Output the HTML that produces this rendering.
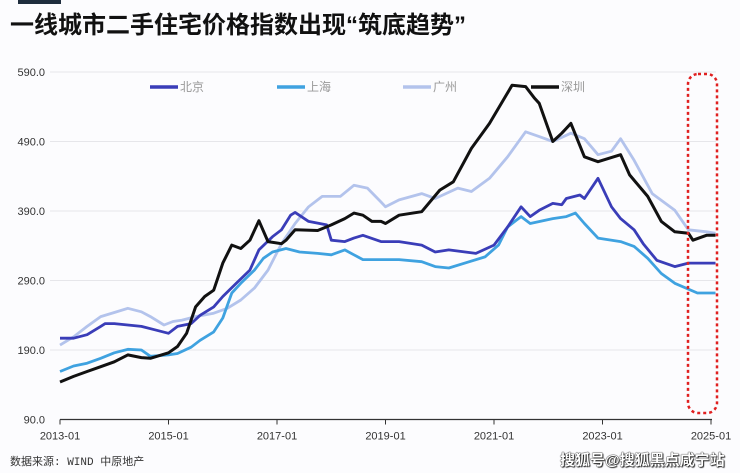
<!DOCTYPE html>
<html><head><meta charset="utf-8">
<style>
html,body{margin:0;padding:0;background:#fcfcfe;}
body{width:740px;height:473px;overflow:hidden;position:relative;font-family:"Liberation Sans","Noto Sans CJK SC",sans-serif;}
</style></head>
<body>
<div style="position:absolute;left:18px;top:0;width:43px;height:4px;background:#1f2d3d"></div>
<div style="position:absolute;left:10px;top:5px;font-size:24px;font-weight:bold;color:#111;font-family:'Liberation Sans','Noto Sans CJK SC',sans-serif">一线城市二手住宅价格指数出现“筑底趋势”</div>
<svg id="chart" width="740" height="473" style="position:absolute;left:0;top:0"></svg>
<div style="position:absolute;left:10px;top:453px;font-size:11px;color:#333;font-family:'Liberation Mono','Noto Sans CJK SC',monospace">数据来源: WIND 中原地产</div>
<div style="position:absolute;left:560px;top:449px;font-size:15px;font-weight:bold;color:#fff;text-shadow:0 0 1px #000,0 0 1px #000,1px 1px 1px #333">搜狐号@搜狐黑点咸宁站</div>
<script>
const yTicks=[90,190,290,390,490,590];
const xTickLabels=["2013-01","2015-01","2017-01","2019-01","2021-01","2023-01","2025-01"];
const seriesNames=["北京","上海","广州","深圳"];
const bjMonths=[0,3,6,9,10,12,15,18,21,24,26,29,31,34,36,39,42,44,47,49,51,52,55,59,60,63,65,67,71,75,80,83,86,92,96,99,102,104,106,109,111,112,115,116,119,122,124,127,129,132,136,139,142,145];
const bjVals=[207,207,212,224,228,228,226,224,219,214,224,228,240,252,267,286,305,334,353,363,384,388,375,370,348,346,351,355,346,346,341,331,334,329,341,367,396,382,391,401,399,408,413,408,437,396,379,363,343,319,310,315,315,315];
const shMonths=[0,3,6,9,12,15,18,20,24,26,29,31,34,36,38,40,43,45,47,50,53,57,60,63,65,67,71,75,80,83,86,90,94,97,99,101,102,104,109,112,114,116,119,124,127,130,133,136,141,145];
const shVals=[159,167,171,178,186,191,190,181,183,185,194,204,216,236,272,286,305,322,331,336,331,329,327,334,327,320,320,320,317,310,308,316,324,341,367,377,382,372,379,382,387,372,351,346,339,322,300,286,272,272];
const gzMonths=[0,3,6,9,12,15,18,20,23,25,27,30,34,37,40,43,46,49,52,55,58,62,65,68,71,72,75,80,83,88,91,95,99,103,106,109,113,116,119,122,124,127,131,136,139,143,145];
const gzVals=[197,209,224,238,244,250,245,238,226,231,233,238,243,250,262,279,305,343,372,396,411,411,427,423,403,396,406,415,408,423,418,437,468,504,497,490,502,494,471,476,494,463,415,391,363,360,358];
const szMonths=[0,3,6,9,12,15,18,20,24,26,28,30,32,34,36,38,40,42,44,46,49,50,52,57,60,63,65,67,69,71,72,75,80,84,87,91,95,100,103,105,106,109,111,113,116,119,124,126,130,133,136,139,140,143,145];
const szVals=[144,152,159,166,173,183,179,178,186,195,214,252,267,276,315,341,336,348,376,346,343,348,363,362,370,379,387,384,375,375,372,384,389,420,432,480,516,571,569,552,545,490,502,516,468,461,471,442,411,375,360,358,348,355,355];

const svg=document.getElementById('chart');
const NS='http://www.w3.org/2000/svg';
const X0=60,X1=711,M=144,Y0=72,YV0=590;
function xs(m){return X0+m*(X1-X0)/M;}
function ys(v){return Y0+(YV0-v)*0.695;}
function mk(t,a){const e=document.createElementNS(NS,t);for(const k in a)e.setAttribute(k,a[k]);svg.appendChild(e);return e;}

yTicks.forEach(v=>{
  if(v>90){const g=mk('line',{x1:50,x2:716,y1:ys(v),y2:ys(v),stroke:'#e6e6ea','stroke-width':1});
  
  }
  const t=mk('text',{x:45,y:ys(v)+4,'text-anchor':'end','font-size':11,fill:'#333','font-family':'Liberation Sans'});
  t.textContent=v.toFixed(1);
  
  
});
const ax=mk('line',{x1:60,x2:712,y1:ys(90),y2:ys(90),stroke:'#333','stroke-width':1.2});


xTickLabels.forEach((l,i)=>{
  const x=xs(i*24);
  const tk=mk('line',{x1:x,x2:x,y1:ys(90),y2:ys(90)+5,stroke:'#333','stroke-width':1});
  
  
  const t=mk('text',{x:x,y:ys(90)+20,'text-anchor':'middle','font-size':11,fill:'#333','font-family':'Liberation Sans'});
  t.textContent=l;
  
  
});
const series=[[bjMonths,bjVals,'#3a3db8','beijing'],[shMonths,shVals,'#3fa2e0','shanghai'],[gzMonths,gzVals,'#b3c3ec','guangzhou'],[szMonths,szVals,'#111111','shenzhen']];
[2,1,0,3].forEach(i=>{
  const [ms,vs,c,n]=series[i];
  const d=ms.map((m,j)=>(j?'L':'M')+xs(m).toFixed(1)+','+ys(vs[j]).toFixed(1)).join('');
  const p=mk('path',{d:d,fill:'none',stroke:c,'stroke-width':i==3?3:2.8,'stroke-linejoin':'round'});
  
  
});
const lx=[150,277,403,531];
series.forEach((s,i)=>{
  const l=mk('line',{x1:lx[i],x2:lx[i]+28,y1:87,y2:87,stroke:s[2],'stroke-width':3.5});
  
  
  const t=mk('text',{x:lx[i]+30,y:91,'font-size':12,fill:'#999','font-family':'Noto Sans CJK SC'});
  t.textContent=seriesNames[i];
  
  
});
const r=mk('rect',{x:688,y:74,width:29,height:339,rx:10,fill:'none',stroke:'#e02020','stroke-width':2.5,'stroke-dasharray':'3,3'});


</script>
</body></html>
